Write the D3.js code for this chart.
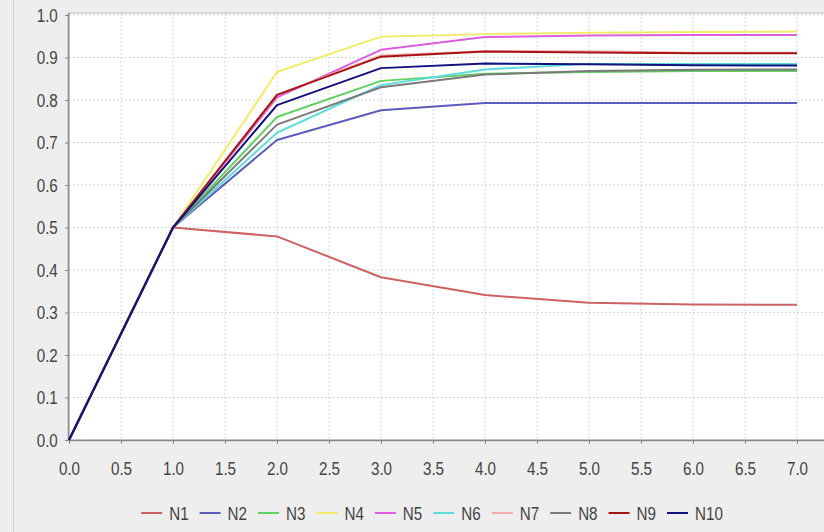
<!DOCTYPE html>
<html><head><meta charset="utf-8">
<script src="https://cdn.jsdelivr.net/npm/d3@7"></script>
<style>
html,body{margin:0;padding:0;background:#eeeeee;}
svg{display:block;}
text{font-family:"Liberation Sans",Arial,sans-serif;fill:#444;}
</style></head>
<body>
<svg id="chart" width="824" height="532"></svg>
<script>
const xValues = [0, 1, 2, 3, 4, 5, 6, 7];
const seriesNames = ["N1","N2","N3","N4","N5","N6","N7","N8","N9","N10"];
const seriesColors = ["#cc6262","#5c5cbc","#62d062","#f0ec6a","#dc5edc","#5edcdc","#f2aaaa","#7a7a7a","#a81414","#12127e"];
const N1  = [0, 0.5, 0.479, 0.383, 0.341, 0.323, 0.319, 0.318];
const N2  = [0, 0.5, 0.706, 0.776, 0.793, 0.793, 0.793, 0.793];
const N3  = [0, 0.5, 0.760, 0.845, 0.862, 0.866, 0.868, 0.868];
const N4  = [0, 0.5, 0.866, 0.949, 0.955, 0.958, 0.960, 0.961];
const N5  = [0, 0.5, 0.806, 0.918, 0.948, 0.952, 0.953, 0.953];
const N6  = [0, 0.5, 0.723, 0.835, 0.872, 0.885, 0.885, 0.885];
const N7  = [0, 0.5, 0.812, 0.905, 0.915, 0.915, 0.911, 0.911];
const N8  = [0, 0.5, 0.742, 0.830, 0.860, 0.868, 0.871, 0.872];
const N9  = [0, 0.5, 0.812, 0.902, 0.914, 0.912, 0.910, 0.910];
const N10 = [0, 0.5, 0.788, 0.875, 0.886, 0.884, 0.882, 0.881];
const seriesValues = [N1,N2,N3,N4,N5,N6,N7,N8,N9,N10];
const xTicks = [0,0.5,1,1.5,2,2.5,3,3.5,4,4.5,5,5.5,6,6.5,7];
const yTicks = [0,0.1,0.2,0.3,0.4,0.5,0.6,0.7,0.8,0.9,1.0];

const svg = d3.select("#chart");
const plotLeft = 69, plotTop = 13, plotBottom = 440, plotRight = 840;
const x = d3.scaleLinear().domain([0,7]).range([69,797]);
const y = d3.scaleLinear().domain([0,1]).range([440,15]);

// panel border
svg.append("line").attr("x1",13.5).attr("x2",13.5).attr("y1",0).attr("y2",532)
  .attr("stroke","#cfcfcf");
svg.append("rect").attr("x",plotLeft).attr("y",plotTop).attr("width",plotRight-plotLeft)
  .attr("height",plotBottom-plotTop).attr("fill","#ffffff").attr("stroke","#b8b8b8");

// grid
svg.append("g").selectAll("line.gx").data(xTicks).join("line")
  .attr("x1",d=>x(d)).attr("x2",d=>x(d)).attr("y1",plotTop).attr("y2",plotBottom)
  .attr("stroke","#d4d4d4").attr("stroke-dasharray","2,2");
svg.append("g").selectAll("line.gy").data(yTicks).join("line")
  .attr("x1",plotLeft).attr("x2",plotRight).attr("y1",d=>y(d)).attr("y2",d=>y(d))
  .attr("stroke","#d4d4d4").attr("stroke-dasharray","2,2");

// axes
const xAxis = svg.append("g").attr("transform",`translate(0,${plotBottom})`)
  .call(d3.axisBottom(x).tickValues(xTicks).tickFormat(d3.format(".1f")).tickSize(4).tickPadding(18).tickSizeOuter(0));
const yAxis = svg.append("g").attr("transform",`translate(${plotLeft},0)`)
  .call(d3.axisLeft(y).tickValues(yTicks).tickFormat(d3.format(".1f")).tickSize(4).tickPadding(10).tickSizeOuter(0));
[xAxis,yAxis].forEach(g=>{
  g.select(".domain").remove();
  g.selectAll(".tick line").attr("stroke","#888");
  g.selectAll("text").attr("font-size",19).attr("font-family","Liberation Sans, Arial, sans-serif")
    .attr("fill","#404040").attr("transform","scale(0.8,1)");
});
svg.append("line").attr("x1",plotLeft).attr("x2",plotRight).attr("y1",plotBottom+0.5).attr("y2",plotBottom+0.5).attr("stroke","#888").attr("stroke-width",1.5);
svg.append("line").attr("x1",plotLeft-0.5).attr("x2",plotLeft-0.5).attr("y1",plotTop).attr("y2",plotBottom).attr("stroke","#888").attr("stroke-width",1.5);

// series
const line = d3.line().x((d,i)=>x(xValues[i])).y(d=>y(d));
svg.append("g").selectAll("path").data(seriesValues).join("path")
  .attr("d",line).attr("fill","none").attr("stroke",(d,i)=>seriesColors[i])
  .attr("stroke-width",2).attr("stroke-linejoin","round");

// legend
const lg = svg.append("g");
let cx = 0;
seriesNames.forEach((n,i)=>{
  const g = lg.append("g").attr("transform",`translate(${cx},0)`);
  g.append("line").attr("x1",0).attr("x2",21).attr("y1",0).attr("y2",0)
    .attr("stroke",seriesColors[i]).attr("stroke-width",2);
  const t = g.append("text").attr("x",0).attr("y",0).attr("dy","0.35em")
    .attr("font-size",19).attr("fill","#404040").attr("transform","translate(28,0) scale(0.8,1)").text(n);
  const w = t.node().getComputedTextLength()*0.8;
  cx += 28 + w + 11;
});
const total = cx - 11;
lg.attr("transform",`translate(${432 - total/2},513)`);
</script>
</body></html>
